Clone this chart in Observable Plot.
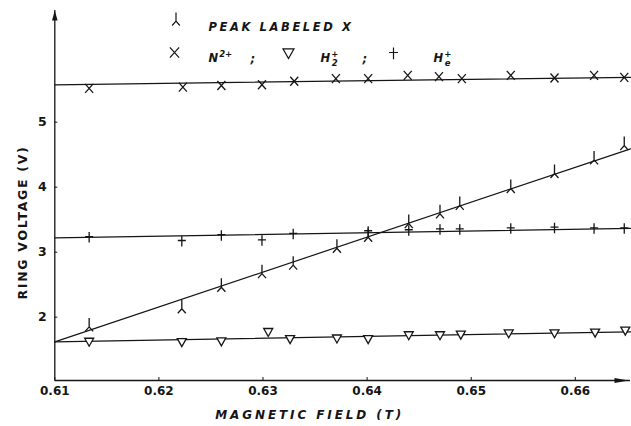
<!DOCTYPE html>
<html><head><meta charset="utf-8">
<script src="https://cdn.jsdelivr.net/npm/d3@7"></script>
<script src="https://cdn.jsdelivr.net/npm/@observablehq/plot@0.6"></script>
<style>
html,body{margin:0;padding:0;background:#fff;}
#chart{width:631px;height:426px;overflow:hidden;}
</style></head><body><div id="chart"></div>
<script>
// ---- data (magnetic field in T, ring voltage in V) ----
const peakField = [0.6133, 0.6222, 0.6260, 0.6299, 0.6329, 0.6371, 0.6401, 0.6440, 0.6470, 0.6489, 0.6538, 0.6580, 0.6618, 0.6647];
const peakVolt  = [1.85, 2.13, 2.46, 2.67, 2.80, 3.06, 3.23, 3.44, 3.59, 3.72, 3.98, 4.21, 4.42, 4.64];
const n2Field   = [0.6133, 0.6223, 0.6260, 0.6299, 0.6330, 0.6370, 0.6401, 0.6439, 0.6469, 0.6491, 0.6538, 0.6580, 0.6618, 0.6647];
const n2Volt    = [5.52, 5.54, 5.565, 5.575, 5.63, 5.67, 5.67, 5.72, 5.70, 5.67, 5.72, 5.68, 5.72, 5.69];
const h2Field   = [0.6133, 0.6222, 0.6260, 0.6305, 0.6326, 0.6371, 0.6401, 0.6440, 0.6470, 0.6490, 0.6536, 0.6580, 0.6619, 0.6648];
const h2Volt    = [1.63, 1.625, 1.635, 1.78, 1.67, 1.68, 1.67, 1.73, 1.73, 1.74, 1.76, 1.76, 1.77, 1.80];
const heField   = [0.6133, 0.6222, 0.6260, 0.6299, 0.6329, 0.6401, 0.6440, 0.6470, 0.6489, 0.6538, 0.6580, 0.6618, 0.6647];
const heVolt    = [3.24, 3.18, 3.27, 3.19, 3.29, 3.33, 3.345, 3.36, 3.36, 3.375, 3.385, 3.375, 3.375];
// fitted straight lines: [start, end] over the field range
const fitField  = [0.61, 0.6653];
const fitPeak   = [1.62, 4.59];
const fitN2     = [5.575, 5.69];
const fitH2     = [1.62, 1.775];
const fitHe     = [3.22, 3.365];
const xTicks = [0.61, 0.62, 0.63, 0.64, 0.65, 0.66];
const yTicks = [2, 3, 4, 5];
const xDomain = [0.61, 0.6653];
const yDomain = [1.026, 6.718];
const xTitle = "MAGNETIC FIELD (T)";
const yTitle = "RING VOLTAGE (V)";
const legendPeak = "PEAK LABELED X";
// legend ion labels: [base, superscript, subscript]
const legendN2 = ["N", "2+", ""];
const legendH2 = ["H", "+", "2"];
const legendHe = ["H", "+", "e"];
const legendSep = ";";

// ---- custom symbols ----
const sym = f => ({draw(ctx, size) { const k = Math.sqrt(size / Math.PI) / 4.5; f(ctx, k); }});
const peakSym = sym((c, k) => { c.moveTo(0, -9 * k); c.lineTo(0, 0); c.moveTo(-4 * k, 4.5 * k); c.lineTo(0, 0); c.lineTo(4 * k, 4.5 * k); });
const timesSym = sym((c, k) => { c.moveTo(-4 * k, -4.5 * k); c.lineTo(4 * k, 4.5 * k); c.moveTo(4 * k, -4.5 * k); c.lineTo(-4 * k, 4.5 * k); });
const triSym = sym((c, k) => { c.moveTo(-4.5 * k, -3 * k); c.lineTo(4.5 * k, -3 * k); c.lineTo(0, 5 * k); c.closePath(); });
const daggerSym = sym((c, k) => { c.moveTo(0, -4.5 * k); c.lineTo(0, 6 * k); c.moveTo(-4 * k, 0); c.lineTo(4 * k, 0); });
const arrowRight = sym((c, k) => { c.moveTo(0, 0); c.lineTo(-14 * k, -2.5 * k); c.lineTo(-14 * k, 2.5 * k); c.closePath(); });
const arrowUp = sym((c, k) => { c.moveTo(0, 0); c.lineTo(-2.8 * k, 10 * k); c.lineTo(2.8 * k, 10 * k); c.closePath(); });

const pts = (xs, ys) => xs.map((x, i) => ({x, y: ys[i]}));
const ink = "#151515";
const W = 631, H = 426, mL = 54.3, mR = 1, mT = 10, mB = 46;
const frameW = W - mL - mR, frameH = H - mT - mB;

const series = [
  {xs: peakField, ys: peakVolt, s: peakSym},
  {xs: n2Field, ys: n2Volt, s: timesSym},
  {xs: h2Field, ys: h2Volt, s: triSym},
  {xs: heField, ys: heVolt, s: daggerSym}
];
const fits = [fitPeak, fitN2, fitH2, fitHe];

const legendText = (t, dx, dy, extra = {}) => Plot.text([t], {frameAnchor: "top-left", textAnchor: "start", dx, dy, fill: ink, fontSize: 11.5, fontWeight: "bold", fontStyle: "italic", ...extra});
const legendSym = (s, dx, dy, r = 4.5) => Plot.dot([0], {frameAnchor: "top-left", dx, dy, symbol: s, r, stroke: ink, strokeWidth: 1.2, fill: s === triSym ? "white" : "none"});

const svg = Plot.plot({
  width: W, height: H,
  marginLeft: mL, marginRight: mR, marginTop: mT, marginBottom: mB,
  style: {fontFamily: "'DejaVu Sans', sans-serif", fontSize: "12px", fontWeight: "bold", color: ink, background: "white"},
  x: {domain: xDomain, axis: null},
  y: {domain: yDomain, axis: null},
  marks: [
    Plot.axisX({ticks: xTicks, tickSize: 0, tickPadding: 6, tickFormat: d3.format(".2f"), label: null, fontSize: 12, fontWeight: "bold"}),
    Plot.axisY({ticks: yTicks, tickSize: 0, tickPadding: 8, tickFormat: d3.format("d"), label: null, fontSize: 12.5, fontWeight: "bold"}),
    Plot.tickX(xTicks, {x: d => d, insetTop: frameH - 3, stroke: ink, strokeWidth: 1}),
    Plot.tickY(yTicks, {y: d => d, insetRight: frameW - 3, stroke: ink, strokeWidth: 1}),
    Plot.ruleY([yDomain[0]], {stroke: ink, strokeWidth: 1.3}),
    Plot.ruleX([xDomain[0]], {stroke: ink, strokeWidth: 1.3}),
    Plot.dot([0], {x: () => xDomain[1], y: () => yDomain[0], dx: -2, symbol: arrowRight, r: 4.5, fill: ink}),
    Plot.dot([0], {x: () => xDomain[0], y: () => yDomain[1], symbol: arrowUp, r: 4.5, fill: ink}),
    ...fits.map(f => Plot.line(pts(fitField, f), {x: "x", y: "y", stroke: ink, strokeWidth: 1.2})),
    ...series.map(({xs, ys, s}) => Plot.dot(pts(xs, ys), {x: "x", y: "y", symbol: s, r: 4.5, stroke: ink, strokeWidth: 1.3, fill: s === triSym ? "white" : "none"})),
    Plot.text([xTitle], {frameAnchor: "bottom", textAnchor: "middle", dx: -33, dy: 38, fill: ink, fontSize: 12, fontWeight: "bold", fontStyle: "italic"}),
    Plot.text([yTitle], {frameAnchor: "left", textAnchor: "middle", rotate: -90, dx: -32.3, dy: 27, fill: ink, fontSize: 12.5, fontWeight: "bold"}),
    legendSym(peakSym, 121.2, 10.7, 4.3),
    legendText(legendPeak, 153.7, 12.7),
    legendSym(timesSym, 119.7, 42, 5.2),
    legendText(legendN2.join(""), 153.7, 43),
    legendText(legendSep, 195.7, 44),
    legendSym(triSym, 233.7, 42, 5.5),
    legendText(legendH2.join(""), 265.7, 43),
    legendText(legendSep, 307.7, 44),
    legendSym(daggerSym, 338.7, 42, 5),
    legendText(legendHe.join(""), 378.7, 43)
  ]
});
const s = d3.select(svg);
const byText = str => s.selectAll("text").filter(function() { return this.textContent === str; });
byText(xTitle).style("letter-spacing", "2.9px");
byText(yTitle).style("letter-spacing", "1.7px");
byText(legendPeak).style("letter-spacing", "2.6px");
// rebuild ion labels with real superscript / subscript tspans
[legendN2, legendH2, legendHe].forEach(parts => {
  const t = byText(parts.join(""));
  const [base, sup, sub] = parts;
  t.text(null);
  t.append("tspan").text(base);
  t.append("tspan").attr("font-size", 8.5).attr("dx", 1).attr("dy", -5).text(sup);
  if (sub) t.append("tspan").attr("font-size", 8.5).attr("dx", -6.5).attr("dy", 9).text(sub);
});
document.getElementById("chart").appendChild(svg);
</script></body></html>
